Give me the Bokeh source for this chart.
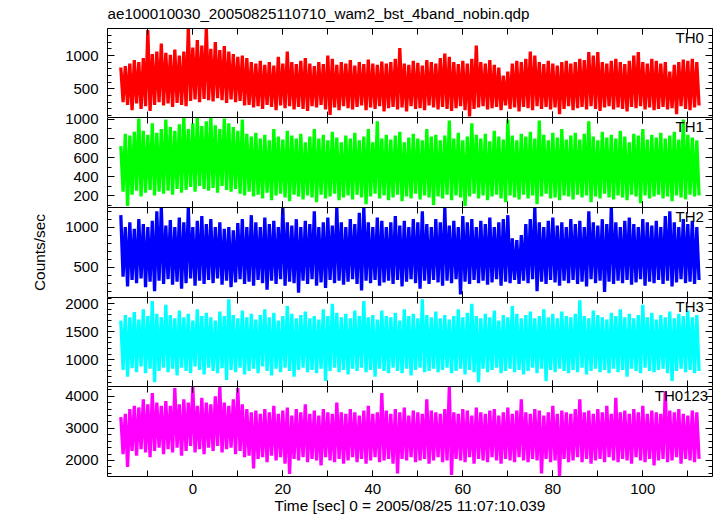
from bokeh.plotting import figure
from bokeh.models import Range1d, LinearAxis, SingleIntervalTicker, Label, CustomLabelingPolicy
from bokeh.layouts import column
from bokeh.embed import file_html
from bokeh.resources import INLINE

# ---- data (1-s bins: upper and lower excursion) ----
time_sec = list(range(-16, 113))

th0_hi = [820, 840, 880, 930, 900, 960, 1380, 1020, 1060, 1180,
          1040, 1010, 1090, 1000, 1060, 1410, 1120, 1230, 1150, 1410,
          1100, 1200, 1080, 1140, 1060, 1020, 980, 1000, 960, 900,
          880, 920, 860, 900, 850, 980, 880, 1060, 900, 870,
          920, 960, 880, 840, 900, 870, 1000, 950, 860, 900,
          880, 930, 850, 900, 870, 940, 880, 860, 910, 880,
          900, 950, 1110, 880, 860, 920, 890, 850, 930, 900,
          880, 960, 1030, 980, 900, 870, 920, 880, 950, 1150,
          900, 880, 930, 860, 820, 700, 760, 880, 920, 900,
          950, 1060, 1000, 900, 870, 920, 880, 850, 900, 920,
          880, 900, 950, 930, 1050, 1000, 1050, 900, 880, 920,
          950, 900, 870, 920, 1000, 1050, 900, 880, 950, 920,
          880, 900, 760, 860, 900, 940, 920, 950, 900]
th0_lo = [300, 260, 180, 280, 200, 240, 170, 260, 300, 250,
          280, 230, 290, 260, 240, 320, 340, 300, 350, 330,
          310, 360, 330, 290, 340, 300, 320, 250, 260, 220,
          240, 200, 260, 230, 180, 250, 210, 240, 190, 230,
          200, 170, 240, 220, 260, 190, 110, 220, 180, 240,
          210, 190, 230, 250, 180, 220, 200, 240, 160, 210,
          230, 190, 220, 160, 240, 200, 210, 180, 250, 220,
          190, 230, 200, 170, 210, 240, 180, 85, 200, 220,
          240, 190, 210, 230, 180, 250, 200, 220, 160, 230,
          210, 180, 240, 200, 230, 190, 220, 120, 200, 240,
          180, 210, 230, 190, 240, 200, 170, 220, 240, 190,
          220, 200, 160, 230, 210, 240, 190, 220, 180, 200,
          230, 190, 210, 120, 240, 200, 180, 220, 250]

th1_hi = [720, 850, 830, 870, 1010, 880, 840, 960, 860, 900,
          1000, 920, 880, 950, 1030, 900, 960, 1020, 930, 980,
          1030, 940, 900, 1010, 960, 920, 880, 1000, 850, 820,
          860, 800, 840, 780, 900, 820, 790, 880, 830, 800,
          850, 760, 820, 900, 800, 840, 780, 870, 810, 760,
          830, 800, 860, 780, 820, 900, 760, 980, 800, 840,
          790, 830, 870, 760, 810, 850, 800, 780, 900, 820,
          840, 780, 830, 990, 800, 860, 780, 820, 960, 840,
          800, 850, 770, 880, 820, 790, 1000, 830, 780, 850,
          820, 870, 800, 990, 840, 780, 860, 810, 900, 790,
          830, 860, 790, 850, 980, 820, 780, 870, 810, 840,
          800, 880, 820, 760, 850, 830, 900, 790, 840, 810,
          860, 800, 830, 870, 790, 1000, 840, 810, 780]
th1_lo = [240, 90, 210, 250, 190, 230, 260, 200, 240, 220,
          250, 210, 270, 230, 260, 290, 240, 300, 270, 250,
          280, 230, 300, 260, 240, 270, 220, 200, 240, 190,
          210, 170, 230, 150, 200, 220, 180, 140, 210, 190,
          160, 200, 180, 130, 210, 170, 190, 220, 150, 180,
          200, 160, 210, 180, 110, 190, 220, 170, 200, 150,
          180, 210, 140, 190, 170, 220, 160, 200, 180, 100,
          190, 170, 210, 150, 200, 180, 90, 190, 220, 170,
          200, 150, 190, 210, 170, 130, 200, 180, 160, 210,
          170, 200, 110, 190, 220, 170, 180, 150, 200, 190,
          160, 210, 180, 200, 130, 190, 170, 220, 180, 160,
          200, 180, 150, 210, 190, 120, 200, 170, 190, 210,
          170, 190, 140, 200, 180, 160, 210, 190, 200]

th2_hi = [1150, 1000, 1060, 980, 1100, 1040, 1000, 1080, 1200, 1250,
          1020, 1090, 1000, 1120, 1060, 1250, 1000, 1080, 1140, 1040,
          1100, 1000, 1060, 980, 1000, 960, 1050, 1100, 1000, 1150,
          1060, 1000, 1120, 1040, 1080, 1000, 1250, 1060, 1020, 1100,
          1000, 1080, 1040, 1200, 1000, 1060, 1120, 1020, 1250, 1060,
          1000, 1100, 1040, 1180, 1250, 1060, 1000, 1120, 1080, 1000,
          1060, 1140, 1020, 1080, 1000, 1100, 1060, 1200, 1040, 1000,
          1100, 1060, 1250, 1020, 1080, 1000, 1140, 1060, 1100, 1000,
          1080, 1040, 1120, 1000, 1060, 1100, 1150, 860, 840, 900,
          1040, 1100, 1250, 1060, 1000, 1080, 1120, 1020, 1060, 1000,
          1100, 1040, 1080, 1000, 1200, 1060, 1020, 1100, 1040, 1250,
          1060, 1000, 1080, 1120, 1040, 1000, 1100, 1060, 1020, 1080,
          1000, 1140, 1200, 1060, 1000, 1100, 1040, 1080, 1000]
th2_lo = [380, 260, 340, 300, 360, 250, 320, 200, 330, 290,
          350, 280, 320, 230, 300, 360, 270, 330, 290, 340,
          300, 360, 280, 330, 250, 310, 350, 290, 320, 270,
          340, 300, 220, 330, 290, 350, 270, 320, 300, 180,
          330, 290, 350, 270, 310, 240, 340, 300, 330, 280,
          320, 350, 290, 210, 330, 300, 340, 270, 310, 330,
          290, 340, 260, 320, 350, 300, 230, 330, 290, 340,
          310, 270, 330, 300, 350, 160, 320, 290, 340, 300,
          330, 280, 310, 350, 270, 320, 300, 340, 290, 330,
          300, 350, 200, 320, 290, 340, 310, 270, 330, 300,
          340, 290, 320, 260, 350, 300, 330, 190, 320, 290,
          330, 300, 340, 280, 310, 350, 270, 320, 300, 340,
          290, 330, 260, 310, 350, 300, 320, 290, 340]

th3_hi = [1700, 1800, 1760, 1850, 1720, 1900, 1780, 2050, 1820, 1760,
          1980, 1800, 1740, 1880, 1760, 1820, 1700, 1900, 1780, 1840,
          1760, 1700, 1860, 1780, 2080, 1800, 1740, 1880, 1760, 1820,
          1720, 1800, 1900, 1760, 1840, 1700, 1780, 1960, 1820, 1740,
          1800, 1860, 1740, 1780, 1720, 1900, 1780, 2000, 1840, 1760,
          1820, 1740, 1880, 1780, 2050, 1760, 1800, 1720, 1880, 1780,
          1760, 1840, 1700, 1900, 1780, 1820, 1740, 2080, 1800, 1760,
          1860, 1740, 1800, 1720, 1780, 1900, 1760, 1840, 2000, 1780,
          1740, 1820, 1760, 1880, 1700, 1800, 1760, 1960, 1820, 1740,
          1800, 1860, 1740, 1780, 1900, 1760, 1820, 1740, 1860, 1780,
          1760, 1820, 2060, 1780, 1740, 1880, 1800, 1760, 1720, 1840,
          1780, 1900, 1760, 1820, 1740, 1800, 1980, 1760, 1840, 1720,
          1800, 1760, 1860, 1740, 1820, 1780, 1880, 1760, 1800]
th3_lo = [820, 700, 850, 780, 880, 760, 840, 600, 800, 860,
          780, 840, 720, 860, 800, 760, 880, 820, 740, 860,
          800, 760, 850, 640, 820, 780, 860, 740, 800, 840,
          760, 880, 800, 720, 840, 780, 860, 800, 700, 820,
          860, 780, 820, 760, 840, 620, 800, 860, 780, 820,
          740, 840, 800, 860, 780, 820, 700, 840, 800, 760,
          860, 800, 760, 840, 720, 820, 860, 780, 800, 840,
          780, 820, 860, 760, 800, 840, 740, 820, 780, 600,
          840, 780, 820, 860, 760, 800, 840, 780, 820, 740,
          800, 860, 760, 840, 620, 820, 780, 840, 800, 760,
          820, 780, 860, 740, 800, 840, 780, 820, 760, 840,
          780, 820, 700, 840, 800, 760, 860, 800, 780, 820,
          840, 760, 620, 800, 840, 780, 820, 760, 800]

th0123_hi = [3350, 3450, 3600, 3700, 3650, 3900, 3750, 4100, 3800, 3700,
             3850, 3700, 4250, 3750, 3900, 3800, 4300, 3700, 3950, 3800,
             3750, 4000, 4300, 3800, 3700, 3900, 4250, 3750, 3600, 3500,
             3550, 3450, 3600, 3500, 3700, 3450, 3550, 3650, 3400, 3600,
             3500, 3750, 3450, 3550, 3400, 3600, 3500, 3450, 3800, 3500,
             3450, 3600, 3500, 3400, 3550, 3700, 3450, 3500, 4100, 3550,
             3450, 3600, 3500, 3650, 3400, 3550, 3500, 3450, 3900, 3550,
             3500, 3450, 3600, 4300, 3500, 3450, 3600, 3550, 3400, 3650,
             3500, 3450, 3550, 3600, 3400, 3500, 3650, 3450, 3550, 3900,
             3500, 3450, 3600, 3550, 3400, 3500, 3700, 3450, 3550, 3500,
             3450, 3600, 3900, 3500, 3550, 3450, 3600, 3500, 3700, 3450,
             3950, 3500, 3550, 3450, 3600, 3500, 3700, 3450, 3550, 3500,
             3450, 4150, 3550, 3500, 3600, 3450, 3400, 3550, 3500]
th0123_lo = [2200, 1800, 2300, 2150, 2350, 2250, 2100, 2300, 2400, 2200,
             2350, 2250, 2400, 2150, 2300, 2450, 2250, 2350, 2200, 2400,
             2300, 2450, 2250, 2350, 2400, 2200, 2300, 2100, 2150, 1750,
             2050, 2100, 1950, 2150, 2000, 2100, 1900, 1580, 2050, 2000,
             2100, 1950, 2050, 2000, 1850, 2100, 2000, 1950, 2050, 1900,
             2000, 2100, 1950, 2050, 1900, 2000, 2100, 1950, 2000, 2050,
             1900, 1600, 2050, 2000, 2100, 1950, 2000, 2050, 1900, 2000,
             2100, 1950, 2000, 1550, 2050, 2000, 1950, 2100, 1900, 2050,
             2000, 1950, 2100, 2000, 1900, 2050, 2000, 1950, 2100, 2000,
             1950, 2050, 2000, 1600, 2050, 1950, 2000, 1500, 2050, 1950,
             2000, 2100, 1950, 2050, 1900, 2000, 2050, 1950, 2100, 2000,
             1950, 2050, 2000, 1900, 2100, 2000, 1950, 2050, 1850, 2000,
             2050, 1950, 2000, 2100, 1900, 2050, 2000, 1950, 2050]

band_names = ["TH0", "TH1", "TH2", "TH3", "TH0123"]
band_hi = [th0_hi, th1_hi, th2_hi, th3_hi, th0123_hi]
band_lo = [th0_lo, th1_lo, th2_lo, th3_lo, th0123_lo]

title_text = "ae100010030_20050825110710_wam2_bst_4band_nobin.qdp"
xlabel_text = "Time [sec] 0 = 2005/08/25 11:07:10.039"
ylabel_text = "Counts/sec"

# ---- styling / layout ----
colors = ["#ff0000", "#00ff00", "#0000ff", "#00ffff", "#ff00ff"]
y_ranges = [(70, 1405), (74, 1021), (121, 1246), (523, 2112), (1502, 4302)]
y_major = [(500, 5), (200, 2), (500, 5), (500, 5), (1000, 5)]
frame_h = [89, 90, 90, 89, 90]
label_x = [107.27, 107.27, 107.27, 107.27, 102.67]
X0, X1 = -18.96, 115.49
FONT = "Liberation Sans"

for h, l in zip(band_hi, band_lo):
    assert len(h) == len(time_sec) and len(l) == len(time_sec)


def style_axis(ax, labels=True, tick_in=7, tick_out=0, minor_in=4, minor_out=0):
    ax.axis_line_color = "black"
    ax.axis_line_width = 1
    ax.major_tick_line_color = "black"
    ax.minor_tick_line_color = "black"
    ax.major_tick_in = tick_in
    ax.major_tick_out = tick_out
    ax.minor_tick_in = minor_in
    ax.minor_tick_out = minor_out
    if labels:
        ax.major_label_text_font = FONT
        ax.major_label_text_font_size = "15px"
        ax.major_label_text_color = "black"
    else:
        ax.major_label_text_font_size = "1px"
        ax.major_label_standoff = 0
        ax.major_label_policy = CustomLabelingPolicy(code="return []")


figs = []
for i in range(5):
    top_b = 28 if i == 0 else 10
    bot_b = 40 if i == 4 else 0
    ylo, yhi = y_ranges[i]
    fh = frame_h[i]
    p = figure(width=717, height=top_b + fh + bot_b,
               x_range=Range1d(X0, X1), y_range=Range1d(ylo, yhi),
               output_backend="svg", toolbar_location=None,
               min_border_left=107, min_border_right=5,
               min_border_top=top_b, min_border_bottom=bot_b,
               x_axis_location=None, y_axis_location=None,
               border_fill_color=None, background_fill_color="white",
               outline_line_color=None)
    p.grid.visible = False
    if i > 0:
        p.margin = (-10, 0, 0, 0)

    # left axis with labels
    yax = LinearAxis(ticker=SingleIntervalTicker(interval=y_major[i][0], num_minor_ticks=y_major[i][1]))
    style_axis(yax)
    yax.major_label_standoff = 9
    if i == 2:
        yax.axis_label = ylabel_text
        yax.axis_label_text_font = FONT
        yax.axis_label_text_font_size = "15.4px"
        yax.axis_label_text_font_style = "normal"
        yax.axis_label_text_color = "black"
        yax.axis_label_standoff = 14
    p.add_layout(yax, "left")

    # right axis (ticks only)
    rax = LinearAxis(ticker=SingleIntervalTicker(interval=y_major[i][0], num_minor_ticks=y_major[i][1]))
    style_axis(rax, labels=False)
    p.add_layout(rax, "right")

    # top axis (ticks only); for lower panels the ticks cross the boundary
    tax = LinearAxis(ticker=SingleIntervalTicker(interval=20, num_minor_ticks=2))
    style_axis(tax, labels=False, tick_in=6, tick_out=(6 if i > 0 else 0),
               minor_in=6, minor_out=(6 if i > 0 else 0))
    p.add_layout(tax, "above")

    if i == 0:
        p.title.text = title_text
        p.title.align = "left"
        p.title.text_font = FONT
        p.title.text_font_size = "15.2px"
        p.title.text_font_style = "normal"
        p.title.text_color = "black"
        p.title.standoff = 5

    if i == 4:
        bax = LinearAxis(ticker=SingleIntervalTicker(interval=20, num_minor_ticks=2))
        style_axis(bax, tick_in=6, minor_in=6)
        bax.major_label_standoff = 7
        bax.axis_label = xlabel_text
        bax.axis_label_text_font = FONT
        bax.axis_label_text_font_size = "15.4px"
        bax.axis_label_text_font_style = "normal"
        bax.axis_label_text_color = "black"
        bax.axis_label_standoff = 0
        p.add_layout(bax, "below")

    # light curve: zig-zag between the upper and lower excursion of each bin
    xs, ys = [], []
    for t, h, l in zip(time_sec, band_hi[i], band_lo[i]):
        xs += [t, t + 0.5]
        ys += [h, l]
    p.line(xs, ys, line_color=colors[i], line_width=3.3)

    upp = (yhi - ylo) / fh
    p.add_layout(Label(x=label_x[i], y=yhi - 8.5 * upp, text=band_names[i],
                       text_font=FONT, text_font_size="15px", text_color="black",
                       text_align="left", text_baseline="alphabetic"))
    figs.append(p)

layout = column(*figs, spacing=0)
open("out.html", "w").write(file_html(layout, INLINE))
